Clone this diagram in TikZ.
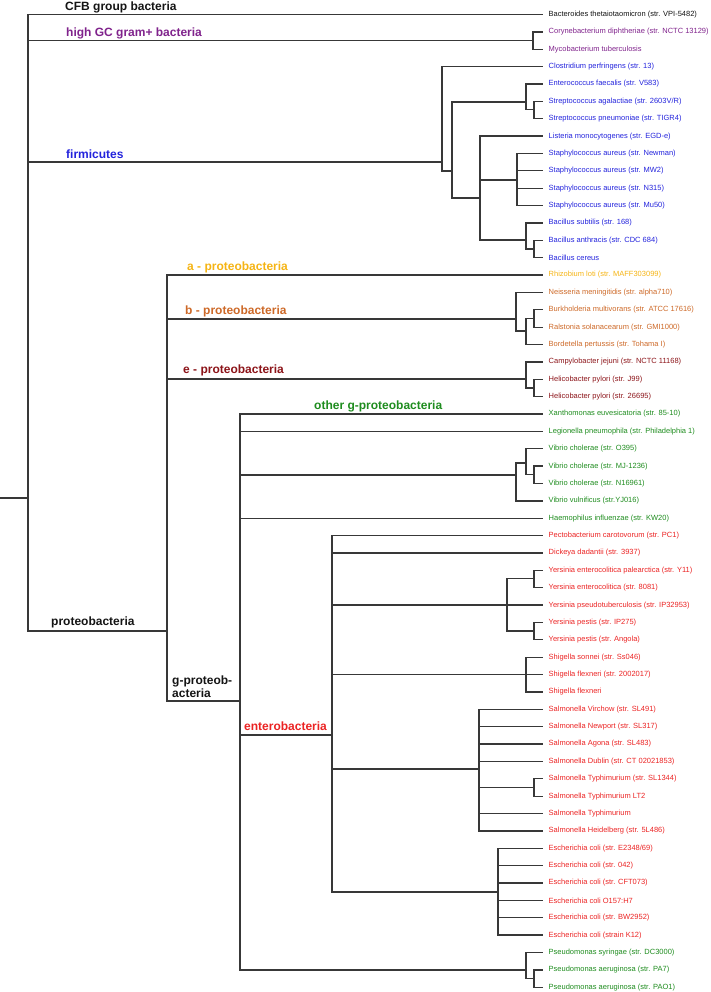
\documentclass[tikz,border=0pt]{standalone}
\usepackage{fontspec}
\setmainfont{Liberation Sans}
\usepackage{tikz}
\usepackage[dvipsnames]{xcolor}
\definecolor{cfbc}{RGB}{20,20,20}
\definecolor{gcc}{RGB}{128,35,140}
\definecolor{firmc}{RGB}{35,35,220}
\definecolor{alphac}{RGB}{245,180,20}
\definecolor{betac}{RGB}{205,105,40}
\definecolor{epsc}{RGB}{140,20,25}
\definecolor{gamc}{RGB}{30,140,30}
\definecolor{entc}{RGB}{235,35,35}

\begin{document}
\begin{tikzpicture}[x=1pt, y=-1pt,
  branch/.style={line width=1.3pt, draw=black!78},
  leaf/.style={anchor=west, inner xsep=5.5pt, inner ysep=0pt, font=\fontsize{7.5}{9}\selectfont},
  clade/.style={anchor=base west, inner sep=0pt, font=\fontsize{12}{13}\selectfont\bfseries}]
  \useasboundingbox (0,0) rectangle (711,992);

  % leaves
  \foreach \i/\c/\t in {
    1/cfbc/{Bacteroides thetaiotaomicron (str. VPI-5482)},
    2/gcc/{Corynebacterium diphtheriae (str. NCTC 13129)},
    3/gcc/{Mycobacterium tuberculosis},
    4/firmc/{Clostridium perfringens (str. 13)},
    5/firmc/{Enterococcus faecalis (str. V583)},
    6/firmc/{Streptococcus agalactiae (str. 2603V/R)},
    7/firmc/{Streptococcus pneumoniae (str. TIGR4)},
    8/firmc/{Listeria monocytogenes (str. EGD-e)},
    9/firmc/{Staphylococcus aureus (str. Newman)},
    10/firmc/{Staphylococcus aureus (str. MW2)},
    11/firmc/{Staphylococcus aureus (str. N315)},
    12/firmc/{Staphylococcus aureus (str. Mu50)},
    13/firmc/{Bacillus subtilis (str. 168)},
    14/firmc/{Bacillus anthracis (str. CDC 684)},
    15/firmc/{Bacillus cereus},
    16/alphac/{Rhizobium loti (str. MAFF303099)},
    17/betac/{Neisseria meningitidis (str. alpha710)},
    18/betac/{Burkholderia multivorans (str. ATCC 17616)},
    19/betac/{Ralstonia solanacearum (str. GMI1000)},
    20/betac/{Bordetella pertussis (str. Tohama I)},
    21/epsc/{Campylobacter jejuni (str. NCTC 11168)},
    22/epsc/{Helicobacter pylori (str. J99)},
    23/epsc/{Helicobacter pylori (str. 26695)},
    24/gamc/{Xanthomonas euvesicatoria (str. 85-10)},
    25/gamc/{Legionella pneumophila (str. Philadelphia 1)},
    26/gamc/{Vibrio cholerae (str. O395)},
    27/gamc/{Vibrio cholerae (str. MJ-1236)},
    28/gamc/{Vibrio cholerae (str. N16961)},
    29/gamc/{Vibrio vulnificus (str.YJ016)},
    30/gamc/{Haemophilus influenzae (str. KW20)},
    31/entc/{Pectobacterium carotovorum (str. PC1)},
    32/entc/{Dickeya dadantii (str. 3937)},
    33/entc/{Yersinia enterocolitica palearctica (str. Y11)},
    34/entc/{Yersinia enterocolitica (str. 8081)},
    35/entc/{Yersinia pseudotuberculosis (str. IP32953)},
    36/entc/{Yersinia pestis (str. IP275)},
    37/entc/{Yersinia pestis (str. Angola)},
    38/entc/{Shigella sonnei (str. Ss046)},
    39/entc/{Shigella flexneri (str. 2002017)},
    40/entc/{Shigella flexneri},
    41/entc/{Salmonella Virchow (str. SL491)},
    42/entc/{Salmonella Newport (str. SL317)},
    43/entc/{Salmonella Agona (str. SL483)},
    44/entc/{Salmonella Dublin (str. CT 02021853)},
    45/entc/{Salmonella Typhimurium (str. SL1344)},
    46/entc/{Salmonella Typhimurium LT2},
    47/entc/{Salmonella Typhimurium},
    48/entc/{Salmonella Heidelberg (str. 5L486)},
    49/entc/{Escherichia coli (str. E2348/69)},
    50/entc/{Escherichia coli (str. 042)},
    51/entc/{Escherichia coli (str. CFT073)},
    52/entc/{Escherichia coli O157:H7},
    53/entc/{Escherichia coli (str. BW2952)},
    54/entc/{Escherichia coli (strain K12)},
    55/gamc/{Pseudomonas syringae (str. DC3000)},
    56/gamc/{Pseudomonas aeruginosa (str. PA7)},
    57/gamc/{Pseudomonas aeruginosa (str. PAO1)}}
    \node[leaf, text=\c] (l\i) at (543, {14.5+17.37*(\i-1)}) {\t};

  % inner nodes
  \coordinate (stub) at (0, 498);
  \coordinate (root) at (28, 498);
  \coordinate (gc) at (533, 40.5);
  \coordinate (firm) at (442, 162);
  \coordinate (fA) at (452, 171);
  \coordinate (fB) at (526, 102);
  \coordinate (fB2) at (534, 109.7);
  \coordinate (fC) at (480, 198);
  \coordinate (staph) at (517, 180);
  \coordinate (bac) at (526, 240);
  \coordinate (bac2) at (534, 249);
  \coordinate (proteo) at (167, 631);
  \coordinate (bprot) at (516, 319);
  \coordinate (b2) at (526, 331);
  \coordinate (b3) at (534, 318.4);
  \coordinate (eprot) at (526, 379);
  \coordinate (e2) at (534, 387.9);
  \coordinate (gprot) at (240, 701);
  \coordinate (vib) at (516, 475);
  \coordinate (v2) at (526, 463);
  \coordinate (v3) at (534, 474.8);
  \coordinate (ent) at (332, 735);
  \coordinate (yer) at (507, 605.1);
  \coordinate (y2) at (534, 578.8);
  \coordinate (y3) at (534, 631.1);
  \coordinate (shi) at (526, 674.6);
  \coordinate (sal) at (479, 769);
  \coordinate (s2) at (534, 787.3);
  \coordinate (eco) at (498, 892);
  \coordinate (pse) at (526, 970);
  \coordinate (p2) at (534, 978.7);

  \draw[branch] (stub) -- (root);
  \foreach \p/\c in {root/l1.west, root/gc, root/firm, root/proteo,
    gc/l2.west, gc/l3.west,
    firm/l4.west, firm/fA, fA/fB, fA/fC,
    fB/l5.west, fB/fB2, fB2/l6.west, fB2/l7.west,
    fC/l8.west, fC/staph, fC/bac,
    staph/l9.west, staph/l10.west, staph/l11.west, staph/l12.west,
    bac/l13.west, bac/bac2, bac2/l14.west, bac2/l15.west,
    proteo/l16.west, proteo/bprot, proteo/eprot, proteo/gprot,
    bprot/l17.west, bprot/b2, b2/b3, b2/l20.west, b3/l18.west, b3/l19.west,
    eprot/l21.west, eprot/e2, e2/l22.west, e2/l23.west,
    gprot/l24.west, gprot/l25.west, gprot/vib, gprot/l30.west, gprot/ent, gprot/pse,
    vib/v2, vib/l29.west, v2/l26.west, v2/v3, v3/l27.west, v3/l28.west,
    ent/l31.west, ent/l32.west, ent/yer, ent/shi, ent/sal, ent/eco,
    yer/y2, yer/l35.west, yer/y3, y2/l33.west, y2/l34.west, y3/l36.west, y3/l37.west,
    shi/l38.west, shi/l39.west, shi/l40.west,
    sal/l41.west, sal/l42.west, sal/l43.west, sal/l44.west, sal/s2, sal/l47.west, sal/l48.west,
    s2/l45.west, s2/l46.west,
    eco/l49.west, eco/l50.west, eco/l51.west, eco/l52.west, eco/l53.west, eco/l54.west,
    pse/l55.west, pse/p2, p2/l56.west, p2/l57.west}
    \draw[branch] (\p) |- (\c);

  % clade names
  \node[clade, text=cfbc] (cfbname) at (65, 10.5) {CFB group bacteria};
  \node[clade, text=gcc] (gcname) at (66, 37) {high GC gram+ bacteria};
  \node[clade, text=firmc] (firmname) at (66, 158.5) {firmicutes};
  \node[clade, text=alphac] (alphaname) at (187, 270.5) {a - proteobacteria};
  \node[clade, text=betac] (betaname) at (185, 314.5) {b - proteobacteria};
  \node[clade, text=epsc] (epsname) at (183, 373.5) {e - proteobacteria};
  \node[clade, text=gamc] (othername) at (314, 409.5) {other g-proteobacteria};
  \node[clade, text=cfbc] (proteoname) at (51, 625.5) {proteobacteria};
  \node[clade, text=cfbc, anchor=south west, align=left] (gamname) at (172, 697.5) {g-proteob-\\acteria};
  \node[clade, text=entc] (entname) at (244, 730) {enterobacteria};
\end{tikzpicture}
\end{document}
